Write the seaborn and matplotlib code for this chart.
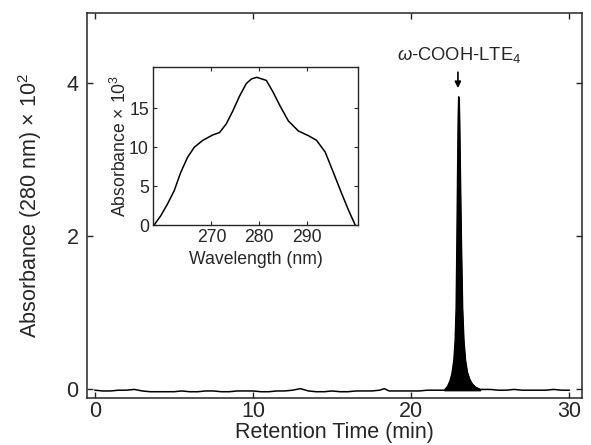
import numpy as np
import pandas as pd
import seaborn as sns
import matplotlib.pyplot as plt

# chromatogram (retention time in min, absorbance x 10^2)
rt_time = [0.0, 0.5, 1.0, 1.5, 2.0, 2.5, 3.0, 3.5, 4.0, 4.5, 5.0, 5.5, 6.0, 6.5, 7.0,
           7.5, 8.0, 8.5, 9.0, 9.5, 10.0, 10.5, 11.0, 11.5, 12.0, 12.5, 13.0, 13.5,
           14.0, 14.5, 15.0, 15.5, 16.0, 16.5, 17.0, 17.5, 18.0, 18.3, 18.6, 19.0,
           19.5, 20.0, 20.5, 21.0, 21.5, 22.1, 22.3, 22.45, 22.58, 22.7, 22.78,
           22.84, 22.89, 22.93, 22.97, 23.0, 23.03, 23.08, 23.14, 23.22, 23.3,
           23.4, 23.52, 23.68, 23.85, 24.05, 24.35, 24.7, 25.0,
           25.5, 26.0, 26.5, 27.0, 27.5, 28.0, 28.5, 29.0, 29.5, 30.0]
rt_abs = [-0.02, -0.03, -0.03, -0.02, -0.02, -0.01, -0.03, -0.04, -0.04, -0.04,
          -0.04, -0.03, -0.04, -0.04, -0.03, -0.03, -0.04, -0.04, -0.03, -0.03,
          -0.03, -0.04, -0.04, -0.03, -0.03, -0.02, 0.0, -0.03, -0.04, -0.04,
          -0.03, -0.04, -0.04, -0.03, -0.03, -0.03, -0.02, 0.0, -0.03, -0.03,
          -0.03, -0.03, -0.03, -0.02, -0.02, -0.02, 0.03, 0.1, 0.2, 0.38, 0.64,
          1.05, 1.95, 2.8, 3.55, 3.82, 3.55, 2.8, 1.95, 1.05, 0.64,
          0.38, 0.22, 0.12, 0.06, 0.02, -0.01, -0.01, -0.01,
          -0.02, -0.02, -0.01, -0.02, -0.02, -0.02, -0.02, -0.01, -0.02, -0.02]

# UV spectrum (wavelength in nm, absorbance x 10^3)
wl = [258.0, 259.4, 260.8, 262.2, 263.6, 265.0, 266.4, 268.2, 270.3, 271.7,
      273.1, 274.5, 275.9, 277.3, 278.4, 279.5, 281.5, 282.9, 284.3, 286.1,
      288.2, 290.3, 292.0, 293.8, 295.5, 297.3, 298.7, 300.1]
wl_abs = [0.0, 1.2, 2.7, 4.4, 6.8, 8.7, 10.0, 10.9, 11.6, 11.9,
          13.0, 14.7, 16.6, 18.2, 18.8, 19.0, 18.6, 17.1, 15.4, 13.4,
          12.1, 11.5, 10.9, 9.4, 6.8, 4.0, 1.9, 0.0]

main_xticks = [0, 10, 20, 30]
main_yticks = [0, 2, 4]
inset_xticks = [270, 280, 290]
inset_yticks = [0, 5, 10, 15]

peak_label = r"$\omega$-COOH-LTE$_4$"
peak_time = 23.0
peak_top = 3.82

sns.set_style("ticks")
plt.rcParams["font.family"] = ["Liberation Sans", "DejaVu Sans"]
plt.rcParams["mathtext.fontset"] = "custom"
plt.rcParams["mathtext.rm"] = "Liberation Sans"
plt.rcParams["mathtext.it"] = "Liberation Sans:italic"

chrom = pd.DataFrame({"t": rt_time, "a": rt_abs})
spec = pd.DataFrame({"wl": wl, "a": wl_abs})

fig = plt.figure(figsize=(5.91, 4.45), dpi=100)
ax = fig.add_axes([0.147, 0.106, 0.838, 0.865])

sns.lineplot(data=chrom, x="t", y="a", ax=ax, color="black", linewidth=1.1)
ax.fill_between(chrom["t"], chrom["a"], -0.02,
                where=(chrom["t"] >= 22.1) & (chrom["t"] <= 24.35), color="black")

ax.set_xlim(-0.5, 30.8)
ax.set_ylim(-0.12, 4.92)
ax.set_xticks(main_xticks)
ax.set_yticks(main_yticks)
ax.tick_params(direction="in", top=True, right=True, length=4, width=1,
               labelsize=15.5)
ax.tick_params(axis="y", pad=6)
ax.tick_params(axis="x", pad=2)
ax.set_xlabel("Retention Time (min)", fontsize=15.5, labelpad=0)
ax.set_ylabel("Absorbance (280 nm) \u00d7 10$^2$", fontsize=15.5, labelpad=16)
for s in ax.spines.values():
    s.set_linewidth(1.1)

# arrow + peak label
ax.annotate("", xy=(peak_time - 0.05, peak_top + 0.08),
            xytext=(peak_time - 0.05, peak_top + 0.36),
            arrowprops=dict(arrowstyle="-|>", color="black", lw=1.2,
                            mutation_scale=9))
ax.text(peak_time, peak_top + 0.42, peak_label, ha="center", va="bottom",
        fontsize=13.2)

# inset UV spectrum
ins = fig.add_axes([0.259, 0.494, 0.347, 0.355])
sns.lineplot(data=spec, x="wl", y="a", ax=ins, color="black", linewidth=1.1)
ins.set_xlim(257.8, 300.7)
ins.set_ylim(0, 20.3)
ins.set_xticks(inset_xticks)
ins.set_yticks(inset_yticks)
ins.tick_params(direction="in", top=True, right=True, length=3, width=0.8,
                labelsize=12.7, pad=3)
ins.set_xlabel("Wavelength (nm)", fontsize=12.7, labelpad=3)
ins.set_ylabel("Absorbance \u00d7 10$^3$", fontsize=12.7, labelpad=-1)
for s in ins.spines.values():
    s.set_linewidth(1.0)

fig.savefig("out.png", dpi=100)
